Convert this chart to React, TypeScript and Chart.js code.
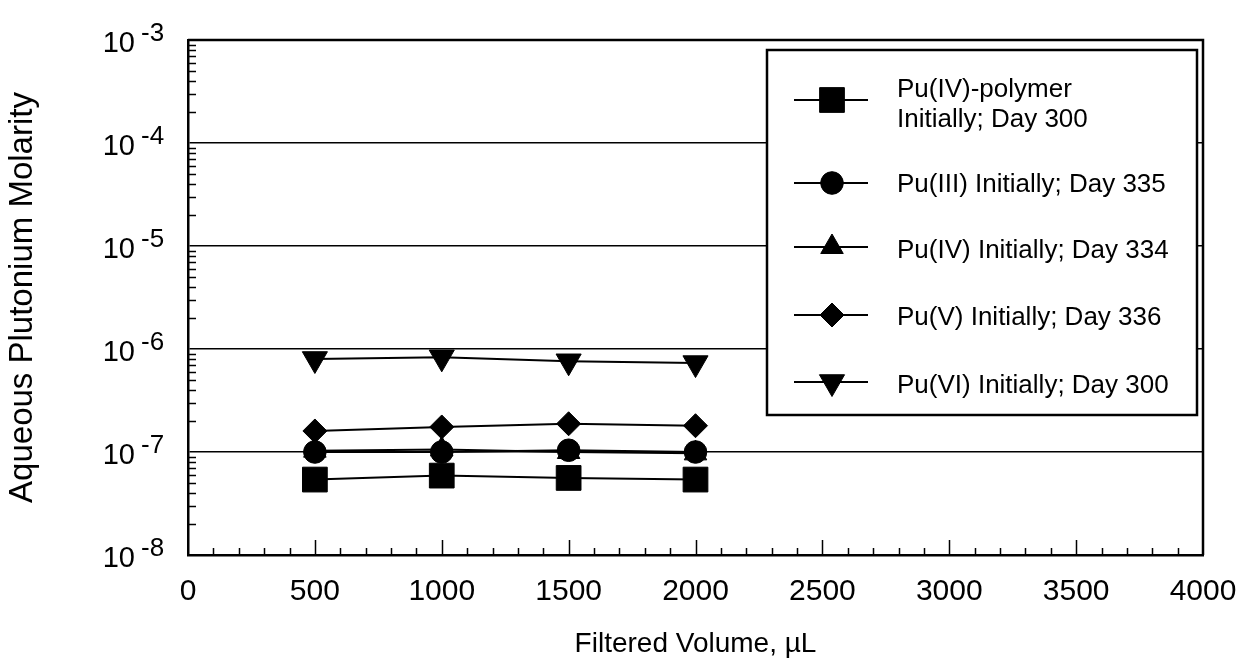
import React, { useEffect, useRef } from "react";
import { Chart, registerables } from "chart.js";
import { drawPoint } from "chart.js/helpers";

Chart.register(...registerables);

// ---- data ----
const volumes = [500, 1000, 1500, 2000];
const puIVPolymer = [5.4e-8, 5.9e-8, 5.6e-8, 5.4e-8];
const puIII = [1.0e-7, 1.0e-7, 1.04e-7, 1.0e-7];
const puIV = [1.03e-7, 1.06e-7, 1.0e-7, 0.97e-7];
const puV = [1.6e-7, 1.75e-7, 1.88e-7, 1.8e-7];
const puVI = [8.0e-7, 8.3e-7, 7.6e-7, 7.3e-7];

const seriesNames = [
  "Pu(IV)-polymer Initially; Day 300",
  "Pu(III) Initially; Day 335",
  "Pu(IV) Initially; Day 334",
  "Pu(V) Initially; Day 336",
  "Pu(VI) Initially; Day 300",
];
const legendLines = [
  ["Pu(IV)-polymer", "Initially; Day 300"],
  ["Pu(III) Initially; Day 335"],
  ["Pu(IV) Initially; Day 334"],
  ["Pu(V) Initially; Day 336"],
  ["Pu(VI) Initially; Day 300"],
];
const xTickValues = [0, 500, 1000, 1500, 2000, 2500, 3000, 3500, 4000];
const yExponents = [-8, -7, -6, -5, -4, -3];
const xTitle = "Filtered Volume, \u00B5L";
const yTitle = "Aqueous Plutonium Molarity";

const FONT = "'Liberation Sans', Arial, Helvetica, sans-serif";

const markerStyles = [
  { pointStyle: "rect", radius: 17.5, rotation: 0 },
  { pointStyle: "circle", radius: 11.3, rotation: 0 },
  { pointStyle: "triangle", radius: 13, rotation: 0 },
  { pointStyle: "rectRot", radius: 12, rotation: 0 },
  { pointStyle: "triangle", radius: 14.5, rotation: 180 },
];

const decorPlugin = {
  id: "decor",
  afterDraw(chart: any) {
    const { ctx, chartArea: ca, scales } = chart;
    const xs = scales.x;
    const ys = scales.y;
    ctx.save();
    ctx.strokeStyle = "#000";
    ctx.fillStyle = "#000";

    // frame top and right
    ctx.lineWidth = 2.5;
    ctx.beginPath();
    ctx.moveTo(ca.left, ca.top);
    ctx.lineTo(ca.right, ca.top);
    ctx.lineTo(ca.right, ca.bottom);
    ctx.stroke();

    // y minor ticks (inward)
    ctx.lineWidth = 1.5;
    ctx.beginPath();
    for (let i = 0; i < yExponents.length - 1; i++) {
      const e = yExponents[i];
      for (let m = 2; m <= 9; m++) {
        const y = Math.round(ys.getPixelForValue(m * Math.pow(10, e))) + 0.5;
        ctx.moveTo(ca.left, y);
        ctx.lineTo(ca.left + 8, y);
      }
    }
    ctx.stroke();

    // x ticks (inward)
    ctx.beginPath();
    for (let v = 100; v < 4000; v += 100) {
      const x = Math.round(xs.getPixelForValue(v)) + 0.5;
      const len = v % 500 === 0 ? 15 : 7;
      ctx.moveTo(x, ca.bottom);
      ctx.lineTo(x, ca.bottom - len);
    }
    ctx.stroke();

    // y tick labels as 10^n
    for (const e of yExponents) {
      const y = ys.getPixelForValue(Math.pow(10, e));
      ctx.font = `29px ${FONT}`;
      ctx.textAlign = "right";
      ctx.textBaseline = "alphabetic";
      ctx.fillText("10", 135, y + 12);
      ctx.font = `26px ${FONT}`;
      ctx.textAlign = "left";
      ctx.fillText(String(e), 141, y + 1);
    }

    // legend (opaque box over the grid)
    const box = { left: 767, top: 50, right: 1197, bottom: 415 };
    ctx.fillStyle = "#fff";
    ctx.fillRect(box.left, box.top, box.right - box.left, box.bottom - box.top);
    ctx.fillStyle = "#000";
    ctx.lineWidth = 2.5;
    ctx.strokeRect(box.left, box.top, box.right - box.left, box.bottom - box.top);
    const markerY = [100, 183, 247, 315, 382];
    const textBase = [[97, 127], [192], [258], [325], [393]];
    for (let i = 0; i < legendLines.length; i++) {
      const my = markerY[i];
      ctx.lineWidth = 2;
      ctx.beginPath();
      ctx.moveTo(794, my);
      ctx.lineTo(868, my);
      ctx.stroke();
      ctx.lineWidth = 1;
      drawPoint(ctx, { ...markerStyles[i], borderWidth: 1 } as any, 832, my);
      ctx.font = `26px ${FONT}`;
      ctx.textAlign = "left";
      ctx.textBaseline = "alphabetic";
      legendLines[i].forEach((t, j) => ctx.fillText(t, 897, textBase[i][j]));
    }
    ctx.restore();
  },
};

export default function App() {
  const canvasRef = useRef<HTMLCanvasElement | null>(null);

  useEffect(() => {
    document.body.style.margin = "0";
    const canvas = canvasRef.current;
    if (!canvas) return;
    const seriesValues = [puIVPolymer, puIII, puIV, puV, puVI];
    const datasets = seriesValues.map((vals, i) => ({
      label: seriesNames[i],
      data: volumes.map((v, k) => ({ x: v, y: vals[k] })),
      borderColor: "#000",
      backgroundColor: "#000",
      borderWidth: 2,
      pointStyle: markerStyles[i].pointStyle as any,
      pointRadius: markerStyles[i].radius,
      pointRotation: markerStyles[i].rotation,
      pointBackgroundColor: "#000",
      pointBorderColor: "#000",
      pointBorderWidth: 1,
      tension: 0,
      fill: false,
    }));

    const chart = new Chart(canvas, {
      type: "line",
      data: { datasets },
      options: {
        animation: false,
        responsive: false,
        devicePixelRatio: 1,
        layout: { padding: { top: 40, right: 35, left: 0, bottom: 0 } },
        plugins: { legend: { display: false }, tooltip: { enabled: false } },
        scales: {
          x: {
            type: "linear",
            min: 0,
            max: 4000,
            afterFit: (s: any) => {
              s.height = 112;
              s.paddingLeft = 0;
              s.paddingRight = 0;
            },
            afterBuildTicks: (s: any) => {
              s.ticks = xTickValues.map((v) => ({ value: v }));
            },
            ticks: {
              autoSkip: false,
              maxRotation: 0,
              color: "#000",
              font: { family: FONT, size: 30 },
              padding: 19,
              callback: (v: any) => String(v),
            },
            grid: { drawOnChartArea: false, drawTicks: false },
            border: { display: true, color: "#000", width: 2.5 },
            title: {
              display: true,
              text: xTitle,
              color: "#000",
              font: { family: FONT, size: 28 },
              padding: { top: 0, bottom: 6 },
            },
          },
          y: {
            type: "logarithmic",
            min: 1e-8,
            max: 1e-3,
            afterFit: (s: any) => {
              s.width = 188;
              s.paddingTop = 0;
              s.paddingBottom = 0;
            },
            ticks: {
              autoSkip: false,
              callback: () => "",
            },
            grid: {
              drawTicks: false,
              lineWidth: 1.5,
              color: (c: any) => {
                const v = c.tick ? c.tick.value : 0;
                const l = Math.log10(v);
                return Math.abs(l - Math.round(l)) < 1e-6 ? "#000" : "rgba(0,0,0,0)";
              },
            },
            border: { display: true, color: "#000", width: 2.5 },
            title: {
              display: true,
              text: yTitle,
              color: "#000",
              font: { family: FONT, size: 33 },
              padding: { top: 3, bottom: 0 },
            },
          },
        },
      },
      plugins: [decorPlugin],
    });
    return () => chart.destroy();
  }, []);

  return (
    <div style={{ width: 1238, height: 667, background: "#fff" }}>
      <canvas ref={canvasRef} width={1238} height={667} style={{ display: "block" }} />
    </div>
  );
}
